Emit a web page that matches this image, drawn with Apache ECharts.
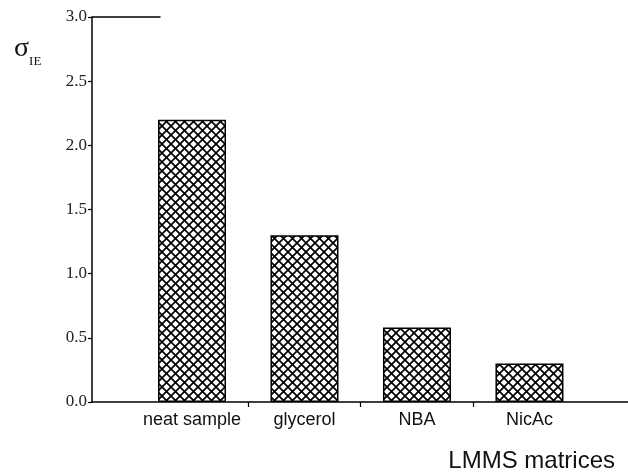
<!DOCTYPE html>
<html>
<head>
<meta charset="utf-8">
<script src="https://cdn.jsdelivr.net/npm/echarts@6/dist/echarts.min.js"></script>
<style>
  html, body { margin: 0; padding: 0; background: #fff; }
  #chart { width: 628px; height: 472px; }
</style>
</head>
<body>
<div id="chart"></div>
<script>
// data
const categories = ["neat sample", "glycerol", "NBA", "NicAc"];
const sigmaValues = [2.2, 1.3, 0.58, 0.3];
const yTicks = [0, 0.5, 1.0, 1.5, 2.0, 2.5, 3.0];

// cross hatch fill for the bars
function hatch() {
  const c = document.createElement("canvas");
  c.width = 9;
  c.height = 9;
  const ctx = c.getContext("2d");
  ctx.fillStyle = "#fff";
  ctx.fillRect(0, 0, 9, 9);
  ctx.strokeStyle = "#000";
  ctx.lineWidth = 1.7;
  ctx.beginPath();
  ctx.moveTo(-1, -1); ctx.lineTo(10, 10);
  ctx.moveTo(10, -1); ctx.lineTo(-1, 10);
  ctx.stroke();
  return c;
}

const chart = echarts.init(document.getElementById("chart"));
const barData = sigmaValues.map((v, i) => [i, v]);

chart.setOption({
  animation: false,
  backgroundColor: "#fff",
  title: [
    {
      text: "{s|σ}{sub|IE}",
      left: 9,
      top: 24,
      textStyle: {
        rich: {
          s: { fontFamily: "Liberation Serif", fontSize: 28, fontWeight: "normal", color: "#111" },
          sub: { fontFamily: "Liberation Serif", fontSize: 13, fontWeight: "normal", color: "#111", padding: [26, 0, 0, 0] }
        }
      }
    },
    {
      text: "LMMS matrices",
      right: 8,
      top: 444,
      textStyle: { fontFamily: "Liberation Sans", fontSize: 24, fontWeight: "normal", color: "#111" }
    }
  ],
  grid: { left: 92, right: 0, top: 17, bottom: 70 },
  xAxis: {
    type: "value",
    min: -0.889,
    max: 3.876,
    splitLine: { show: false },
    axisLine: { onZero: false, lineStyle: { color: "#000", width: 1.5 } },
    axisTick: {
      customValues: [0.5, 1.5, 2.5],
      length: 5,
      lineStyle: { color: "#000", width: 1.2 }
    },
    axisLabel: {
      customValues: [0, 1, 2, 3],
      formatter: v => categories[Math.round(v)],
      margin: 9,
      fontFamily: "Liberation Sans",
      fontSize: 18,
      color: "#111"
    }
  },
  yAxis: {
    type: "value",
    min: 0,
    max: 3,
    interval: 0.5,
    splitLine: { show: false },
    axisLine: { show: true, onZero: false, lineStyle: { color: "#000", width: 1.5 } },
    axisTick: { length: 4, lineStyle: { color: "#000", width: 1.2 } },
    axisLabel: {
      formatter: v => v.toFixed(1),
      margin: 5,
      fontFamily: "Liberation Serif",
      fontSize: 17,
      color: "#222"
    }
  },
  series: [
    {
      type: "bar",
      data: barData,
      barWidth: 68,
      itemStyle: {
        color: { image: hatch(), repeat: "repeat" },
        borderColor: "#000",
        borderWidth: 1.5
      },
      markLine: {
        silent: true,
        symbol: "none",
        label: { show: false },
        lineStyle: { color: "#000", width: 1.5, type: "solid" },
        data: [[{ coord: [-0.889, yTicks[6]] }, { coord: [-0.28, yTicks[6]] }]]
      }
    }
  ]
});
</script>
</body>
</html>
